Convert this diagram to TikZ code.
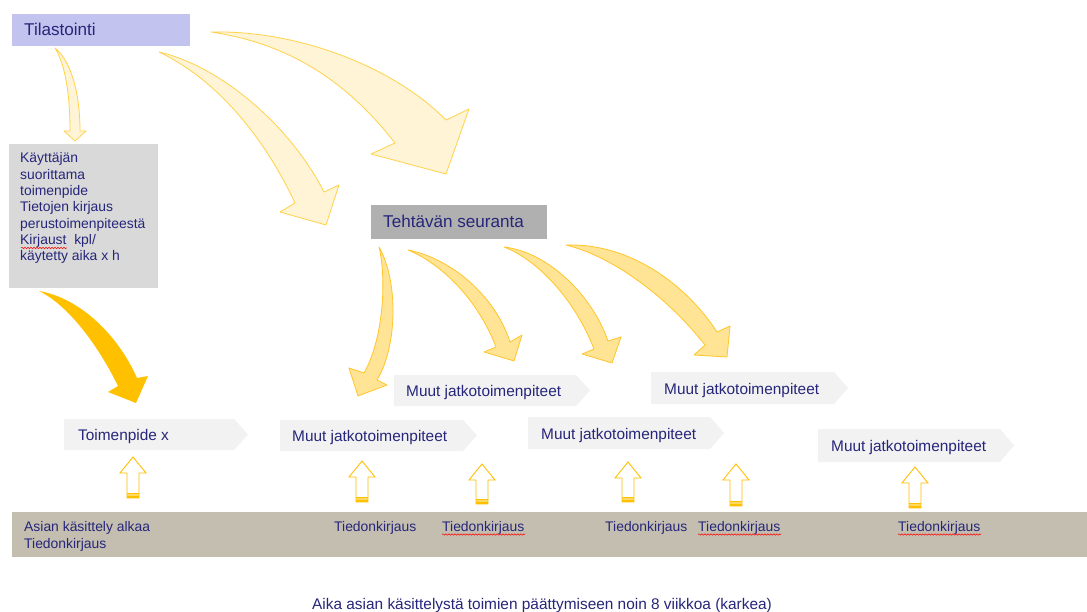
\documentclass[tikz,border=0pt]{standalone}
\usepackage{fontspec}
\setmainfont{Liberation Sans}
\usetikzlibrary{decorations.pathmorphing}
\definecolor{txt}{HTML}{26267A}
\definecolor{lav}{HTML}{C3C3EF}
\definecolor{grayL}{HTML}{D9D9D9}
\definecolor{grayD}{HTML}{B0B0B0}
\definecolor{bandc}{HTML}{C4BEB0}
\definecolor{chevfill}{HTML}{F2F2F2}
\definecolor{ltfill}{HTML}{FFF4D5}
\definecolor{ltdraw}{HTML}{FFD24A}
\definecolor{midfill}{HTML}{FFE495}
\definecolor{middraw}{HTML}{FFC629}
\definecolor{orange1}{HTML}{FFC000}
\definecolor{upband}{HTML}{FFD966}
\tikzset{
  lbl/.style={anchor=base west, inner sep=0pt, text=txt},
  boxbig/.style={font=\fontsize{17.1}{19}\selectfont},
  chevtxt/.style={font=\fontsize{15.4}{18}\selectfont},
  smalltxt/.style={font=\fontsize{13.9}{16.3}\selectfont},
  rectbox/.style={anchor=north west, inner sep=0pt, draw=none},
  chev/.style={fill=chevfill},
  lightarr/.style={fill=ltfill, draw=ltdraw, line width=0.8pt, line join=round},
  midarr/.style={fill=midfill, draw=middraw, line width=0.8pt, line join=round},
  solidarr/.style={fill=orange1},
  uparrline/.style={draw=orange1, line width=0.9pt, line join=miter},
  spell/.style={draw=red, line width=0.5pt, decorate,
    decoration={snake, amplitude=0.7pt, segment length=3pt}},
}
\newcommand\chevron[4]{%
  \path[chev] (#1,#3) -- (#2-14,#3) -- (#2,{(#3+#4)/2}) -- (#2-14,#4) -- (#1,#4) -- cycle;}
\newcommand\uparr[3]{%
  \path[fill=white] (#1,#2) -- (#1+13,#2+16) -- (#1+6,#2+16) -- (#1+6,#3) -- (#1-6,#3) -- (#1-6,#2+16) -- (#1-13,#2+16) -- cycle;
  \fill[upband] (#1-6,#3-5) rectangle (#1+6,#3);
  \draw[orange1, line width=0.6pt] (#1-6,#3-4.5) -- (#1+6,#3-4.5);
  \draw[uparrline] (#1,#2) -- (#1+13,#2+16) -- (#1+6,#2+16) -- (#1+6,#3) -- (#1-6,#3) -- (#1-6,#2+16) -- (#1-13,#2+16) -- cycle;
  \draw[orange1, line width=1.6pt] (#1-6,#3-0.8) -- (#1+6,#3-0.8);}
\begin{document}
\begin{tikzpicture}[x=1pt,y=-1pt]
\useasboundingbox[fill=white] (0,0) rectangle (1087,612);

% boxes
\node[rectbox, fill=lav, minimum width=178pt, minimum height=32pt] (tila) at (12,14) {};
\node[rectbox, fill=grayL, minimum width=149pt, minimum height=144pt] (kay) at (9,144) {};
\node[rectbox, fill=grayD, minimum width=176pt, minimum height=34pt] (teht) at (371,205) {};
\node[rectbox, fill=bandc, minimum width=1075pt, minimum height=45pt] (band) at (12,512) {};

% chevrons
\chevron{64}{248}{419}{450}
\chevron{280}{477}{420}{451}
\chevron{394}{590}{375}{406}
\chevron{528}{724}{417}{449}
\chevron{651}{848}{372}{404}
\chevron{818}{1014}{429}{462}

% curved arrows
\draw[lightarr] (55,48) .. controls (72,62) and (80,95) .. (80,131) -- (86,131) -- (75,141) -- (64,131) -- (70,131) .. controls (70,97) and (66,66) .. (55,48) -- cycle;
\draw[lightarr] (159,52) .. controls (220,66) and (290,125) .. (324,192) -- (339,185) -- (326,225) -- (280,212) -- (295,203) .. controls (268,145) and (222,82) .. (159,52) -- cycle;
\draw[lightarr] (211,32) .. controls (300,30) and (395,68) .. (446,120) -- (469,109) -- (446,174) -- (371,154) -- (395,143) .. controls (355,92) and (300,45) .. (211,32) -- cycle;
\fill[solidarr] (39,291) .. controls (80,298) and (118,335) .. (137,378) -- (148,376) -- (136,403) -- (108,392) -- (118,386) .. controls (98,345) and (68,305) .. (39,291) -- cycle;
\draw[midarr] (379,247) .. controls (398,280) and (398,345) .. (377,380) -- (387,385) -- (358,396) -- (349,368) -- (364,373) .. controls (383,340) and (387,280) .. (379,247) -- cycle;
\draw[midarr] (408,250) .. controls (450,258) and (495,295) .. (510,342) -- (522,335) -- (514,361) -- (484,352) -- (496,347) .. controls (478,300) and (442,264) .. (408,250) -- cycle;
\draw[midarr] (504,247) .. controls (548,252) and (592,295) .. (608,341) -- (621,337) -- (612,363) -- (582,354) -- (594,349) .. controls (575,300) and (538,260) .. (504,247) -- cycle;
\draw[midarr] (566,245) .. controls (635,243) and (690,290) .. (717,332) -- (730,326) -- (727,357) -- (694,355) -- (705,345) .. controls (670,300) and (615,257) .. (566,245) -- cycle;

% up arrows
\uparr{133}{457}{498}
\uparr{362}{461}{502}
\uparr{482}{464}{504}
\uparr{628}{462}{502}
\uparr{736}{464}{506}
\uparr{915}{467}{508}

% texts
\node[lbl, boxbig] (ttila) at (24,36) {Tilastointi};
\node[lbl, boxbig] (tteht) at (383,228) {Tehtävän seuranta};
\foreach \t [count=\i] in {Käyttäjän, suorittama, toimenpide, Tietojen kirjaus, perustoimenpiteestä, {Kirjaust\ \ kpl/}, käytetty aika x h}
  \node[lbl, smalltxt] (k\i) at (20,{163+16.3*(\i-1)}) {\t};
\draw[spell] (21,248) -- (67,248);

\node[lbl, chevtxt] (m1) at (78,440) {Toimenpide x};
\node[lbl, chevtxt] (m2) at (292,441) {Muut jatkotoimenpiteet};
\node[lbl, chevtxt] (m3) at (406,396) {Muut jatkotoimenpiteet};
\node[lbl, chevtxt] (m4) at (541,439) {Muut jatkotoimenpiteet};
\node[lbl, chevtxt] (m5) at (664,394) {Muut jatkotoimenpiteet};
\node[lbl, chevtxt] (m6) at (831,451) {Muut jatkotoimenpiteet};

\node[lbl, smalltxt] (b0) at (24,531) {Asian käsittely alkaa};
\node[lbl, smalltxt] (b0b) at (24,548) {Tiedonkirjaus};
\node[lbl, smalltxt] (b1) at (334,531) {Tiedonkirjaus};
\node[lbl, smalltxt] (b2) at (442,531) {Tiedonkirjaus};
\node[lbl, smalltxt] (b3) at (605,531) {Tiedonkirjaus};
\node[lbl, smalltxt] (b4) at (698,531) {Tiedonkirjaus};
\node[lbl, smalltxt] (b5) at (898,531) {Tiedonkirjaus};
\draw[spell] (b2.base west) ++(0,3.5) -- ++(83,0);
\draw[spell] (b4.base west) ++(0,3.5) -- ++(83,0);
\draw[spell] (b5.base west) ++(0,3.5) -- ++(83,0);

\node[lbl, chevtxt] (cap) at (312,609) {Aika asian käsittelystä toimien päättymiseen noin 8 viikkoa (karkea)};
\end{tikzpicture}
\end{document}
